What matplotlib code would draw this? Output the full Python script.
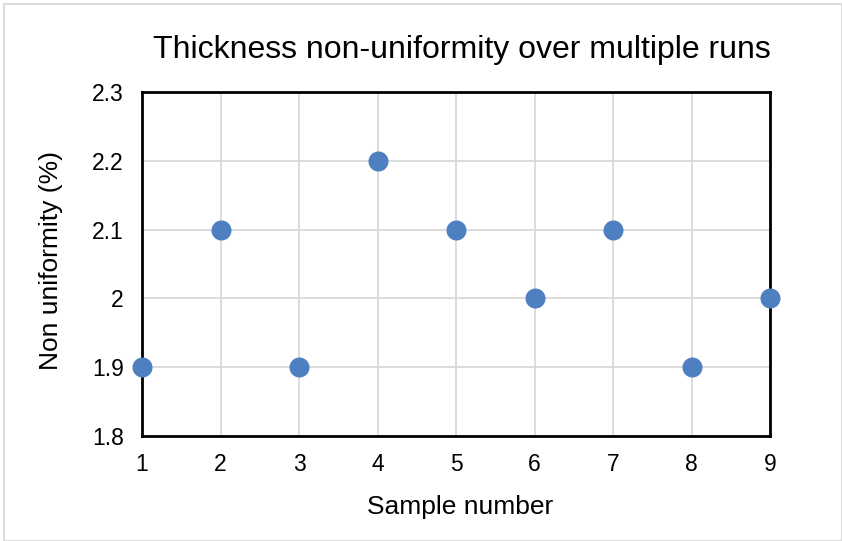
import matplotlib
matplotlib.use("Agg")
import matplotlib.pyplot as plt
from matplotlib.patches import Rectangle

samples = [1, 2, 3, 4, 5, 6, 7, 8, 9]
non_uniformity = [1.9, 2.1, 1.9, 2.2, 2.1, 2.0, 2.1, 1.9, 2.0]
y_ticks = [1.8, 1.9, 2.0, 2.1, 2.2, 2.3]
y_tick_labels = ["1.8", "1.9", "2", "2.1", "2.2", "2.3"]

plt.rcParams['font.family'] = ['Liberation Sans', 'DejaVu Sans']

W, H = 842, 541
fig = plt.figure(figsize=(W / 100, H / 100), dpi=100)
ax = fig.add_axes([142 / W, 1 - 436 / H, (770 - 142) / W, (436 - 92) / H])

ax.scatter(samples, non_uniformity, s=20**2 * 0.52, color='#4E7FC0', zorder=3, clip_on=False, linewidths=0)
ax.set_xlim(1, 9)
ax.set_ylim(1.8, 2.3)
ax.set_xticks(samples)
ax.set_yticks(y_ticks)
ax.set_yticklabels(y_tick_labels)
ax.grid(True, color='#D9D9D9', linewidth=1.3, zorder=0)
ax.set_axisbelow(True)
for sp in ax.spines.values():
    sp.set_linewidth(2)
    sp.set_color('black')
ax.tick_params(length=0, labelsize=16.5)
ax.tick_params(axis='y', pad=13)
ax.tick_params(axis='x', pad=12)
fig.text(460 / W, 1 - 507 / H, "Sample number", fontsize=19, ha='center', va='center')
fig.text(51 / W, 1 - 261 / H, "Non uniformity (%)", fontsize=19, ha='center', va='center', rotation=90)
fig.text(462 / W, 1 - 50 / H, "Thickness non-uniformity over multiple runs", fontsize=23,
         ha='center', va='center')

fig.patches.append(Rectangle((3.5 / W, 0.5 / H), (841.5 - 3.5) / W, (537 - 0.5) / H,
                             transform=fig.transFigure, fill=False, edgecolor='#D9D9D9', linewidth=1.3))

fig.savefig("out.png", dpi=100)
